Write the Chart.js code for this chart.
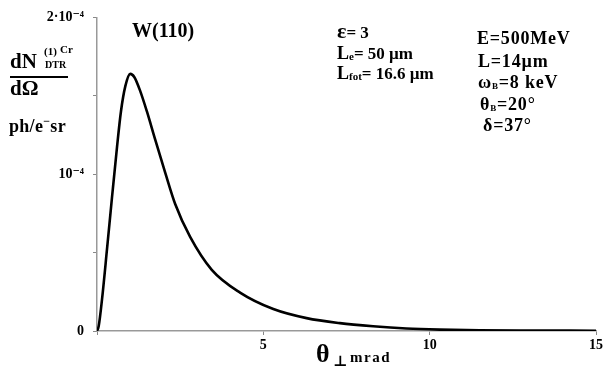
<!DOCTYPE html>
<html>
<head>
<meta charset="utf-8">
<script src="https://cdn.jsdelivr.net/npm/chart.js@4.4.1/dist/chart.umd.min.js"></script>
<style>
  html, body { margin: 0; padding: 0; background: #fff; }
</style>
</head>
<body>
<canvas id="myChart" width="607" height="372"></canvas>
<script>
// angle theta_perp, mrad
var theta = [0, 0.05, 0.15, 0.3, 0.45, 0.6, 0.72, 0.85, 1.0, 1.12, 1.3, 1.5, 1.75, 2.05, 2.35,
             2.8, 3.45, 4.3, 5.3, 6.3, 7.3, 8.3, 9.3, 10.3, 11.5, 13, 15];
// dN/dOmega, units of 10^-4 ph/e- sr
var dN = [0, 0.03, 0.2, 0.52, 0.85, 1.17, 1.4, 1.56, 1.64, 1.62, 1.53, 1.4, 1.22, 1.01, 0.81,
          0.6, 0.39, 0.245, 0.14, 0.082, 0.05, 0.03, 0.016, 0.009, 0.005, 0.003, 0.002];
var xTicks = [5, 10, 15];
var yTickLabels = { 0: '0', 1: '10\u207B\u2074', 2: '2\u00B710\u207B\u2074' };

var serif = "'Liberation Serif', 'DejaVu Serif', serif";

// draw a row of text pieces: [text, size, dy]
function runs(ctx, x, y, parts, spacing) {
    parts.forEach(function (p) {
        ctx.font = 'bold ' + p[1] + 'px ' + serif;
        ctx.letterSpacing = (spacing || 0) + 'px';
        ctx.fillText(p[0], x, y + (p[2] || 0));
        x += ctx.measureText(p[0]).width;
    });
}

var labels = {
    id: 'labels',
    afterDraw: function (chart) {
        var ctx = chart.ctx;
        ctx.save();
        ctx.fillStyle = '#000';
        ctx.textAlign = 'left';
        ctx.textBaseline = 'alphabetic';

        // y title
        runs(ctx, 10, 68, [['dN', 21]]);
        runs(ctx, 44, 55, [['(1)', 11]]);
        runs(ctx, 60, 53, [['Cr', 11]]);
        runs(ctx, 45, 68, [['DTR', 10]]);
        ctx.fillRect(10, 76, 58, 2);
        runs(ctx, 10, 95, [['d\u03A9', 21]]);
        runs(ctx, 9, 132, [['ph/e', 18], ['\u2212', 12, -7], ['sr', 18]], 0.3);

        runs(ctx, 132, 37, [['W(110)', 20]]);

        // x title
        runs(ctx, 316, 362, [['\u03B8', 26]]);
        runs(ctx, 333, 366, [['\u22A5', 15]]);
        runs(ctx, 350, 362, [['mrad', 15]], 1.5);

        // parameters
        runs(ctx, 337, 38, [['\u03B5', 22], ['= 3', 17]]);
        runs(ctx, 337, 59, [['L', 18], ['e', 11, 1], ['= 50 \u00B5m', 17]]);
        runs(ctx, 337, 79, [['L', 18], ['fot', 11, 1], ['= 16.6 \u00B5m', 17]]);

        runs(ctx, 477, 44, [['E=500MeV', 18]], 0.8);
        runs(ctx, 478, 67, [['L=14\u00B5m', 18]], 0.8);
        runs(ctx, 478, 88, [['\u03C9', 18], ['B', 9, 1], ['=8 keV', 18]], 0.8);
        runs(ctx, 480, 110, [['\u03B8', 18], ['B', 9, 1], ['=20\u00B0', 18]], 0.8);
        runs(ctx, 483, 131, [['\u03B4=37\u00B0', 18]], 0.8);
        ctx.restore();
    }
};

var ctx = document.getElementById('myChart').getContext('2d');
var myChart = new Chart(ctx, {
    type: 'line',
    data: {
        datasets: [{
            data: theta.map(function (t, i) { return { x: t, y: dN[i] }; }),
            borderColor: '#000',
            borderWidth: 2.6,
            pointRadius: 0,
            fill: false,
            cubicInterpolationMode: 'monotone'
        }]
    },
    options: {
        responsive: false,
        animation: false,
        devicePixelRatio: 1,
        layout: { padding: { top: 8, right: 11, left: 0, bottom: 0 } },
        plugins: { legend: { display: false }, tooltip: { enabled: false } },
        scales: {
            x: {
                type: 'linear',
                min: 0,
                max: 15,
                afterFit: function (s) { s.height = 41; },
                afterBuildTicks: function (s) { s.ticks = [0].concat(xTicks).map(function (v) { return { value: v }; }); },
                ticks: {
                    padding: 2,
                    color: '#000',
                    maxRotation: 0,
                    font: { family: serif, size: 14, weight: 'bold' },
                    callback: function (v) { return v === 0 ? '' : v; }
                },
                grid: { drawOnChartArea: false, tickLength: 4, color: '#888' },
                border: { color: '#999', width: 1.5 }
            },
            y: {
                min: 0,
                max: 2,
                afterFit: function (s) { s.width = 97; },
                ticks: {
                    stepSize: 0.5,
                    padding: 9,
                    color: '#000',
                    font: { family: serif, size: 14, weight: 'bold' },
                    callback: function (v) { return yTickLabels[v] || ''; }
                },
                grid: { drawOnChartArea: false, tickLength: 4, color: '#888' },
                border: { color: '#999', width: 1.5 }
            }
        }
    },
    plugins: [labels]
});
</script>
</body>
</html>
